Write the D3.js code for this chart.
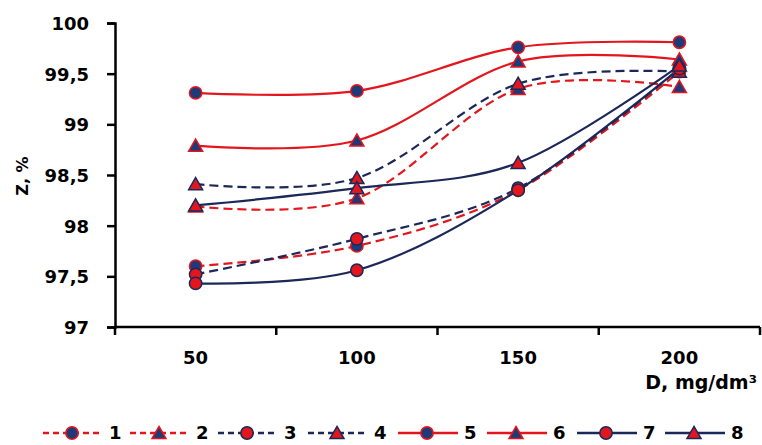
<!DOCTYPE html>
<html>
<head>
<meta charset="utf-8">
<script src="https://cdn.jsdelivr.net/npm/d3@7"></script>
<style>
  html, body { margin: 0; padding: 0; background: #fff; }
  svg { display: block; }
  text { font-family: "DejaVu Sans", sans-serif; font-weight: bold; fill: #000; }
</style>
</head>
<body>
<script>
// ---- data ----
const categories = ["50", "100", "150", "200"];
const yTicks = [97, 97.5, 98, 98.5, 99, 99.5, 100];
const yTickLabels = ["97", "97,5", "98", "98,5", "99", "99,5", "100"];
const seriesNames = ["1", "2", "3", "4", "5", "6", "7", "8"];
const s1 = [97.60, 97.80, 98.35, 99.52];
const s2 = [98.19, 98.27, 99.35, 99.37];
const s3 = [97.52, 97.87, 98.37, 99.55];
const s4 = [98.41, 98.47, 99.40, 99.52];
const s5 = [99.31, 99.33, 99.76, 99.81];
const s6 = [98.79, 98.84, 99.62, 99.64];
const s7 = [97.43, 97.56, 98.35, 99.55];
const s8 = [98.20, 98.37, 98.62, 99.58];
const seriesValues = [s1, s2, s3, s4, s5, s6, s7, s8];
const xTitle = "D, mg/dm³";
const yTitle = "Z, %";

// ---- styles ----
const RED = "#e3161d", NAVY = "#1b2858", MNAVY = "#1f3a78";
const styles = [
  {line: RED,  dash: "9,5", marker: "circle",   fill: MNAVY, stroke: RED},
  {line: RED,  dash: "9,5", marker: "triangle", fill: MNAVY, stroke: RED},
  {line: NAVY, dash: "9,5", marker: "circle",   fill: RED,   stroke: NAVY},
  {line: NAVY, dash: "9,5", marker: "triangle", fill: RED,   stroke: NAVY},
  {line: RED,  dash: null,  marker: "circle",   fill: MNAVY, stroke: RED},
  {line: RED,  dash: null,  marker: "triangle", fill: MNAVY, stroke: RED},
  {line: NAVY, dash: null,  marker: "circle",   fill: RED,   stroke: NAVY},
  {line: NAVY, dash: null,  marker: "triangle", fill: RED,   stroke: NAVY}
];

const W = 762, H = 445;
const mLeft = 115, mRight = 760, mTop = 23, mBottom = 327;

const svg = d3.select("body").append("svg").attr("width", W).attr("height", H);

const xBand = d3.scaleBand().domain(categories).range([mLeft, mRight]).padding(0);
const xc = c => xBand(c) + xBand.bandwidth() / 2;
const y = d3.scaleLinear().domain([97, 100]).range([mBottom, mTop]);

// y axis
const yAxis = d3.axisLeft(y).tickValues(yTicks)
  .tickFormat((d, i) => yTickLabels[i]).tickSize(8).tickPadding(18);
const gy = svg.append("g").attr("transform", `translate(${mLeft},0)`).call(yAxis);
gy.select(".domain").attr("stroke", "#000").attr("stroke-width", 2.5);
gy.selectAll(".tick line").attr("stroke", "#000").attr("stroke-width", 2.5);
gy.selectAll(".tick text").style("font-size", "18px").attr("dy", "0.36em").attr("fill", "#000");

// x axis (labels at category centres, ticks at band boundaries)
const xAxis = d3.axisBottom(xBand).tickSize(0).tickPadding(24);
const gx = svg.append("g").attr("transform", `translate(0,${mBottom})`).call(xAxis);
gx.select(".domain").remove();
gx.selectAll(".tick text").style("font-size", "18px").attr("fill", "#000");
gx.append("line").attr("x1", mLeft).attr("x2", mRight).attr("y1", 0).attr("y2", 0)
  .attr("stroke", "#000").attr("stroke-width", 2.5);
const bounds = categories.map(c => xBand(c)).concat([xBand.range()[1]]);
gx.selectAll("line.bt").data(bounds).enter().append("line").attr("class", "bt")
  .attr("x1", d => d).attr("x2", d => d).attr("y1", 0).attr("y2", 8)
  .attr("stroke", "#000").attr("stroke-width", 2.5);

// titles
svg.append("text").attr("x", 757).attr("y", 389).attr("text-anchor", "end")
  .style("font-size", "19px").text(xTitle);
svg.append("text").attr("transform", "translate(28,176) rotate(-90)")
  .attr("text-anchor", "middle").style("font-size", "16px").text(yTitle);

// lines
const line = d3.line().x((d, i) => xc(categories[i])).y(d => y(d))
  .curve(d3.curveCatmullRom.alpha(0));

const sym = { circle: d3.symbol().type(d3.symbolCircle).size(120),
              triangle: d3.symbol().type(d3.symbolTriangle).size(85) };

seriesValues.forEach((vals, si) => {
  const st = styles[si];
  svg.append("path").attr("d", line(vals)).attr("fill", "none")
    .attr("stroke", st.line).attr("stroke-width", 2.2)
    .attr("stroke-dasharray", st.dash);
});
seriesValues.forEach((vals, si) => {
  const st = styles[si];
  svg.selectAll(null).data(vals).enter().append("path")
    .attr("d", sym[st.marker]())
    .attr("transform", (d, i) => `translate(${xc(categories[i])},${y(d) + (st.marker === "triangle" ? 1.5 : 0)})`)
    .attr("fill", st.fill).attr("stroke", st.stroke).attr("stroke-width", 1.5);
});

// legend
const legX = [43, 130, 218, 308, 398, 487, 577, 665];
const legY = 433;
seriesNames.forEach((name, si) => {
  const st = styles[si];
  const g = svg.append("g").attr("transform", `translate(${legX[si]},${legY})`);
  g.append("line").attr("x1", 0).attr("x2", 60).attr("y1", 0).attr("y2", 0)
    .attr("stroke", st.line).attr("stroke-width", 2.5)
    .attr("stroke-dasharray", st.dash ? "6,4" : null);
  g.append("path").attr("d", sym[st.marker]())
    .attr("transform", `translate(29,${st.marker === "triangle" ? 1.5 : 0})`)
    .attr("fill", st.fill).attr("stroke", st.stroke).attr("stroke-width", 1.5);
  g.append("text").attr("x", 66).attr("y", 0).attr("dy", "0.36em")
    .style("font-size", "18px").text(name);
});
</script>
</body>
</html>
